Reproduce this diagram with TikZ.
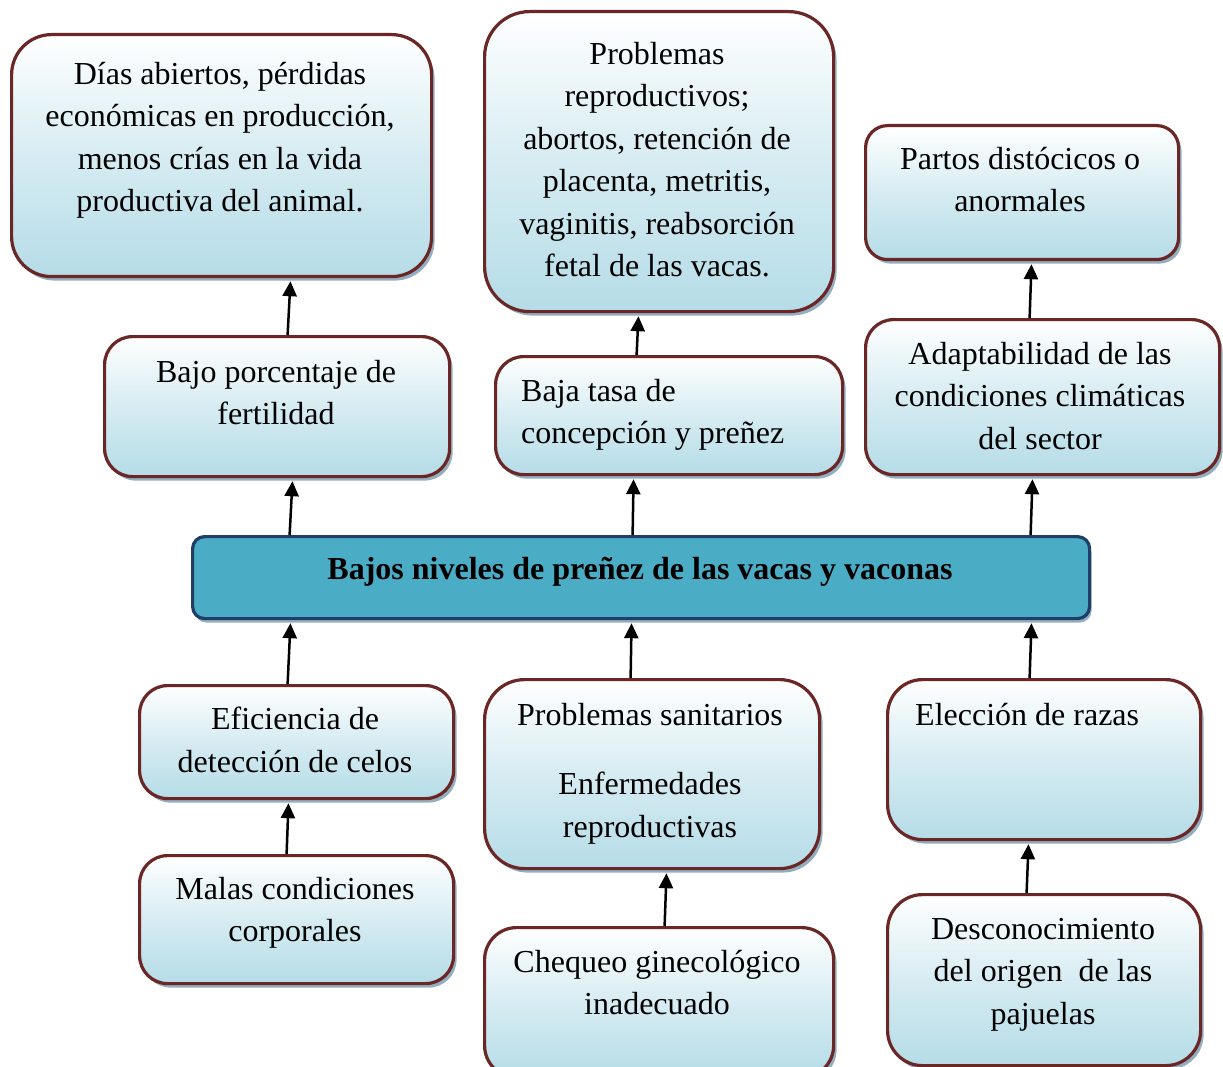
\documentclass[tikz,border=0pt]{standalone}
\usepackage{fontspec}
\setmainfont{Liberation Serif}
\usepackage{xcolor}
\definecolor{marron}{HTML}{6B2626}
\definecolor{celeste}{HTML}{B5DCE7}
\definecolor{sombra}{HTML}{93AEBF}
\definecolor{azulnucleo}{HTML}{4BACC6}
\definecolor{azulborde}{HTML}{1F3F66}
\usetikzlibrary{arrows.meta,shadows,calc}

\begin{document}
\begin{tikzpicture}[x=1pt,y=-1pt,
  caja/.style={draw=marron, line width=3.2pt, rounded corners=#1,
               top color=white, bottom color=celeste, middle color=celeste!55,
               drop shadow={shadow xshift=3pt, shadow yshift=-4pt, fill=sombra, opacity=1},
               inner sep=0pt, anchor=north west},
  caja/.default=28pt,
  nucleo/.style={draw=azulborde, line width=3.2pt, rounded corners=12pt,
                 fill=azulnucleo, inner sep=0pt, anchor=north west,
                 drop shadow={shadow xshift=2pt, shadow yshift=-4pt, fill=sombra, opacity=1}},
  txt/.style={align=center, inner sep=0pt, anchor=north,
              font=\fontsize{32}{42.5}\selectfont},
  txtizq/.style={txt, align=left, anchor=north west},
  flecha/.style={-{Triangle[length=15pt,width=14pt]}, line width=2.5pt, shorten >=3pt}
]
  \useasboundingbox (0,0) rectangle (1223,1067);

  % Efectos (arriba)
  \node[caja=40pt, minimum width=420pt, minimum height=242pt] (b1) at (10,33) {};
  \node[caja=45pt, minimum width=349pt, minimum height=300pt] (b2) at (483,10) {};
  \node[caja=22pt, minimum width=313pt, minimum height=134pt] (b3) at (864,124) {};
  \node[caja, minimum width=345pt, minimum height=140pt] (b4) at (103,335) {};
  \node[caja, minimum width=347pt, minimum height=118pt] (b5) at (494,355) {};
  \node[caja, minimum width=354pt, minimum height=155pt] (b6) at (864,318) {};

  % Problema central
  \node[nucleo, minimum width=897pt, minimum height=82pt] (c) at (191,535) {};

  % Causas (abajo)
  \node[caja, minimum width=314pt, minimum height=113pt] (b8) at (138,684) {};
  \node[caja=40pt, minimum width=335pt, minimum height=189pt] (b9) at (483,678) {};
  \node[caja=35pt, minimum width=313pt, minimum height=160pt] (b10) at (886,678) {};
  \node[caja, minimum width=314pt, minimum height=128pt] (b11) at (138,854) {};
  \node[caja=32pt, minimum width=349pt, minimum height=150pt] (b12) at (483,926) {};
  \node[caja=35pt, minimum width=313pt, minimum height=171pt] (b13) at (886,893) {};

  % Textos
  \node[txt] (t1) at (220,62) {Días abiertos, pérdidas\\económicas en producción,\\menos crías en la vida\\productiva del animal.};
  \node[txt] (t2) at (657,42) {Problemas\\reproductivos;\\abortos, retención de\\placenta, metritis,\\vaginitis, reabsorción\\fetal de las vacas.};
  \node[txt] (t3) at (1020,147) {Partos distócicos o\\anormales};
  \node[txt] (t4) at (276,360) {Bajo porcentaje de\\fertilidad};
  \node[txtizq] (t5) at (521,379) {Baja tasa de\\concepción y preñez};
  \node[txt] (t6) at (1040,342) {Adaptabilidad de las\\condiciones climáticas\\del sector};
  \node[txt, font=\fontsize{32}{38}\selectfont\bfseries] (tc) at (640,557) {Bajos niveles de preñez de las vacas y vaconas};
  \node[txt] (t8) at (295,707) {Eficiencia de\\detección de celos};
  \node[txt] (t9) at (650,703) {Problemas sanitarios\\[27pt]Enfermedades\\reproductivas};
  \node[txtizq] (t10) at (915,703) {Elección de razas};
  \node[txt] (t11) at (295,877) {Malas condiciones\\corporales};
  \node[txt] (t12) at (657,950) {Chequeo ginecológico\\inadecuado};
  \node[txt] (t13) at (1043,918) {Desconocimiento\\del origen\ \ de las\\pajuelas};

  % Flechas
  \draw[flecha] ([xshift=10.5pt]b4.north) -- ([xshift=69pt]b1.south);
  \draw[flecha] ([xshift=-351.5pt]c.north) -- ([xshift=15.5pt]b4.south);
  \draw[flecha] ([xshift=-32.5pt]b5.north) -- ([xshift=-20.5pt]b2.south);
  \draw[flecha] ([xshift=-8.5pt]c.north) -- ([xshift=-35.5pt]b5.south);
  \draw[flecha] ([xshift=-13pt]b6.north) -- ([xshift=9.5pt]b3.south);
  \draw[flecha] ([xshift=389.5pt]c.north) -- ([xshift=-10pt]b6.south);
  \draw[flecha] ([xshift=-9pt]b8.north) -- ([xshift=-350.5pt]c.south);
  \draw[flecha] ([xshift=-21.5pt]b9.north) -- ([xshift=-9.5pt]c.south);
  \draw[flecha] ([xshift=-14.5pt]b10.north) -- ([xshift=390.5pt]c.south);
  \draw[flecha] ([xshift=-10pt]b11.north) -- ([xshift=-8pt]b8.south);
  \draw[flecha] ([xshift=5.5pt]b12.north) -- ([xshift=14.5pt]b9.south);
  \draw[flecha] ([xshift=-17.5pt]b13.north) -- ([xshift=-15.5pt]b10.south);
\end{tikzpicture}
\end{document}
